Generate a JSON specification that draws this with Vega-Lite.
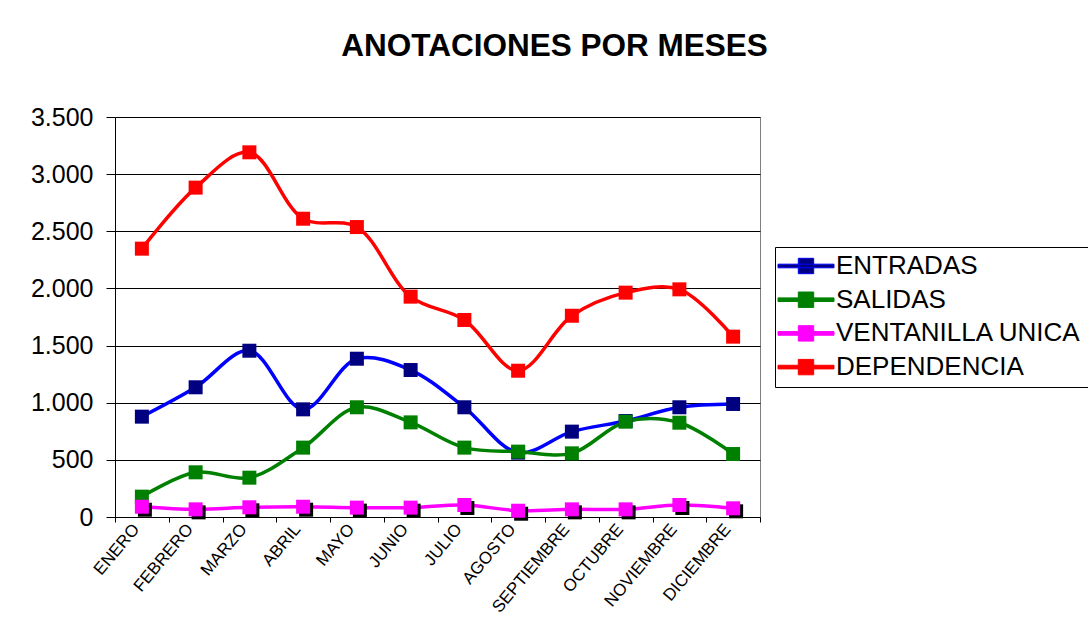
{
  "$schema": "https://vega.github.io/schema/vega-lite/v6.json",
  "width": 645,
  "height": 400,
  "autosize": {"type": "none"},
  "padding": {"left": 115, "top": 117, "right": 328, "bottom": 108},
  "background": "white",
  "title": {"text": "ANOTACIONES POR MESES", "font": "Liberation Sans", "fontSize": 31.5, "fontWeight": "bold", "color": "black", "anchor": "middle", "dx": 117, "offset": 43},
  "config": {"view": {"stroke": "#808080", "strokeWidth": 1}, "font": "Liberation Sans"},
  "data": {"values": [
    {"mes": "ENERO", "serie": "ENTRADAS", "valor": 878},
    {"mes": "FEBRERO", "serie": "ENTRADAS", "valor": 1135},
    {"mes": "MARZO", "serie": "ENTRADAS", "valor": 1455},
    {"mes": "ABRIL", "serie": "ENTRADAS", "valor": 942},
    {"mes": "MAYO", "serie": "ENTRADAS", "valor": 1385},
    {"mes": "JUNIO", "serie": "ENTRADAS", "valor": 1286},
    {"mes": "JULIO", "serie": "ENTRADAS", "valor": 960},
    {"mes": "AGOSTO", "serie": "ENTRADAS", "valor": 563},
    {"mes": "SEPTIEMBRE", "serie": "ENTRADAS", "valor": 747},
    {"mes": "OCTUBRE", "serie": "ENTRADAS", "valor": 840},
    {"mes": "NOVIEMBRE", "serie": "ENTRADAS", "valor": 960},
    {"mes": "DICIEMBRE", "serie": "ENTRADAS", "valor": 989},
    {"mes": "ENERO", "serie": "SALIDAS", "valor": 178},
    {"mes": "FEBRERO", "serie": "SALIDAS", "valor": 391},
    {"mes": "MARZO", "serie": "SALIDAS", "valor": 344},
    {"mes": "ABRIL", "serie": "SALIDAS", "valor": 607},
    {"mes": "MAYO", "serie": "SALIDAS", "valor": 960},
    {"mes": "JUNIO", "serie": "SALIDAS", "valor": 828},
    {"mes": "JULIO", "serie": "SALIDAS", "valor": 607},
    {"mes": "AGOSTO", "serie": "SALIDAS", "valor": 572},
    {"mes": "SEPTIEMBRE", "serie": "SALIDAS", "valor": 557},
    {"mes": "OCTUBRE", "serie": "SALIDAS", "valor": 834},
    {"mes": "NOVIEMBRE", "serie": "SALIDAS", "valor": 825},
    {"mes": "DICIEMBRE", "serie": "SALIDAS", "valor": 551},
    {"mes": "ENERO", "serie": "VENTANILLA UNICA", "valor": 90},
    {"mes": "FEBRERO", "serie": "VENTANILLA UNICA", "valor": 67},
    {"mes": "MARZO", "serie": "VENTANILLA UNICA", "valor": 85},
    {"mes": "ABRIL", "serie": "VENTANILLA UNICA", "valor": 90},
    {"mes": "MAYO", "serie": "VENTANILLA UNICA", "valor": 82},
    {"mes": "JUNIO", "serie": "VENTANILLA UNICA", "valor": 82},
    {"mes": "JULIO", "serie": "VENTANILLA UNICA", "valor": 105},
    {"mes": "AGOSTO", "serie": "VENTANILLA UNICA", "valor": 55},
    {"mes": "SEPTIEMBRE", "serie": "VENTANILLA UNICA", "valor": 67},
    {"mes": "OCTUBRE", "serie": "VENTANILLA UNICA", "valor": 67},
    {"mes": "NOVIEMBRE", "serie": "VENTANILLA UNICA", "valor": 105},
    {"mes": "DICIEMBRE", "serie": "VENTANILLA UNICA", "valor": 76},
    {"mes": "ENERO", "serie": "DEPENDENCIA", "valor": 2348},
    {"mes": "FEBRERO", "serie": "DEPENDENCIA", "valor": 2882},
    {"mes": "MARZO", "serie": "DEPENDENCIA", "valor": 3191},
    {"mes": "ABRIL", "serie": "DEPENDENCIA", "valor": 2610},
    {"mes": "MAYO", "serie": "DEPENDENCIA", "valor": 2537},
    {"mes": "JUNIO", "serie": "DEPENDENCIA", "valor": 1928},
    {"mes": "JULIO", "serie": "DEPENDENCIA", "valor": 1724},
    {"mes": "AGOSTO", "serie": "DEPENDENCIA", "valor": 1280},
    {"mes": "SEPTIEMBRE", "serie": "DEPENDENCIA", "valor": 1761},
    {"mes": "OCTUBRE", "serie": "DEPENDENCIA", "valor": 1963},
    {"mes": "NOVIEMBRE", "serie": "DEPENDENCIA", "valor": 1992},
    {"mes": "DICIEMBRE", "serie": "DEPENDENCIA", "valor": 1578}
  ]},
  "encoding": {
    "x": {
      "field": "mes", "type": "nominal", "bandPosition": 0.5,
      "sort": ["ENERO", "FEBRERO", "MARZO", "ABRIL", "MAYO", "JUNIO", "JULIO", "AGOSTO", "SEPTIEMBRE", "OCTUBRE", "NOVIEMBRE", "DICIEMBRE"],
      "scale": {"type": "band", "paddingInner": 0, "paddingOuter": 0},
      "axis": {"title": null, "labelAngle": -50, "labelFontSize": 17, "labelFont": "Liberation Sans", "labelColor": "black", "tickBand": "extent", "tickSize": 5, "tickColor": "black", "domainColor": "black", "grid": false, "labelPadding": 4, "labelOffset": -6}
    },
    "y": {
      "field": "valor", "type": "quantitative",
      "scale": {"domain": [0, 3500], "nice": false},
      "axis": {"title": null, "values": [0, 500, 1000, 1500, 2000, 2500, 3000, 3500], "labelExpr": "replace(format(datum.value, ','), ',', '.')", "labelFontSize": 25, "labelFont": "Liberation Sans", "labelColor": "black", "labelPadding": 13, "tickSize": 9, "tickColor": "black", "domainColor": "black", "grid": true, "gridColor": "black", "gridWidth": 1, "gridOpacity": 1}
    }
  },
  "layer": [
    {
      "mark": {"type": "line", "interpolate": "catmull-rom", "strokeWidth": 3.5},
      "encoding": {
        "color": {
          "field": "serie", "type": "nominal",
          "scale": {"domain": ["ENTRADAS", "SALIDAS", "VENTANILLA UNICA", "DEPENDENCIA"], "range": ["#0000FF", "#008000", "#FF00FF", "#FF0000"]},
          "legend": {
            "title": null, "orient": "none", "legendX": 660, "legendY": 130,
            "labelFont": "Liberation Sans", "labelFontSize": 26, "labelColor": "black", "labelLimit": 400,
            "strokeColor": "black", "fillColor": "white", "padding": 6, "rowPadding": 7.7,
            "symbolOffset": 12, "labelOffset": 17,
            "symbolType": "M-4,-0.26H4V0.26H-4Z M-1.1,-1.1H1.1V1.1H-1.1Z",
            "symbolSize": 550, "symbolStrokeWidth": 1,
            "encode": {"symbols": {"update": {"fill": {"scale": "color", "field": "value"}, "stroke": {"scale": "color", "field": "value"}, "opacity": {"value": 1}}}}
          }
        }
      }
    },
    {
      "transform": [{"filter": "datum.serie == 'VENTANILLA UNICA'"}],
      "mark": {"type": "point", "shape": "square", "filled": true, "color": "black", "opacity": 1, "size": 196, "xOffset": 3, "yOffset": 3}
    },
    {
      "mark": {"type": "point", "shape": "square", "filled": true, "opacity": 1},
      "encoding": {
        "fill": {"field": "serie", "type": "nominal", "scale": {"domain": ["ENTRADAS", "SALIDAS", "VENTANILLA UNICA", "DEPENDENCIA"], "range": ["#000080", "#008000", "#FF00FF", "#FF0000"]}, "legend": null},
        "size": {"field": "serie", "type": "nominal", "scale": {"domain": ["ENTRADAS", "SALIDAS", "VENTANILLA UNICA", "DEPENDENCIA"], "range": [196, 196, 196, 144]}, "legend": null}
      }
    }
  ]
}
